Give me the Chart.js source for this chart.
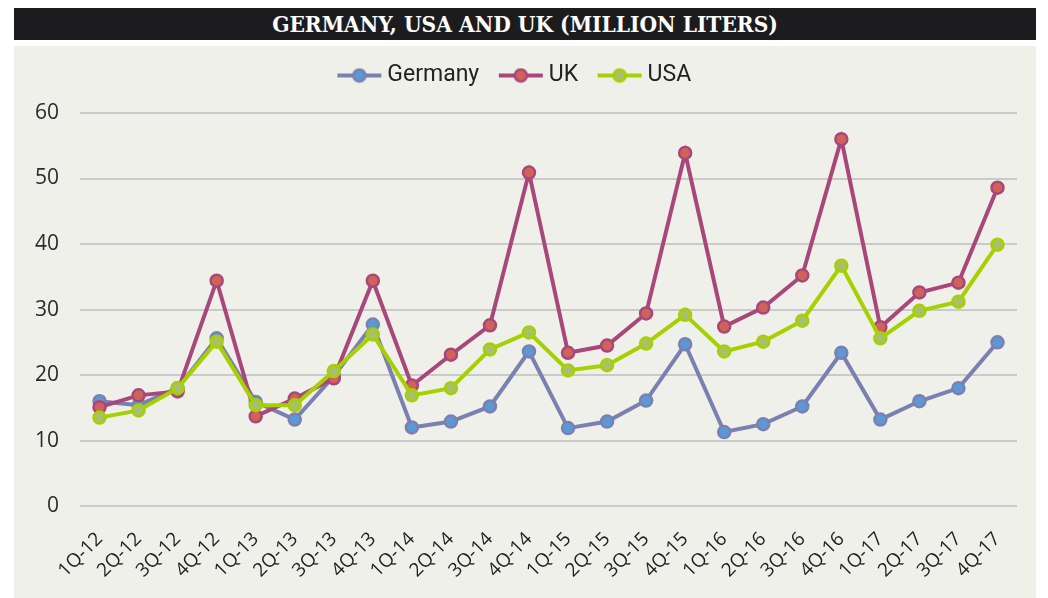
<!DOCTYPE html>
<html>
<head>
<meta charset="utf-8">
<script src="https://cdn.jsdelivr.net/npm/chart.js@4.4.0/dist/chart.umd.min.js"></script>
<style>
	body { margin: 0; background: #fff; width: 1048px; height: 598px; overflow: hidden; }
	#title {
		position: absolute; left: 14px; top: 8px; width: 1022px; height: 32px;
		background: #1c1c1e; color: #fff; text-align: center;
		font: bold 22.5px "DejaVu Serif Condensed", "DejaVu Serif", serif; line-height: 32px;
	}
	#box { position: absolute; left: 14px; top: 46px; width: 1022px; height: 552px; background: #f0f0eb; }
</style>
</head>
<body>
<div id="title">GERMANY, USA AND UK (MILLION LITERS)</div>
<div id="box"><canvas id="chart" width="1022" height="552"></canvas></div>
<script>
const quarters = ['1Q-12', '2Q-12', '3Q-12', '4Q-12', '1Q-13', '2Q-13', '3Q-13', '4Q-13',
	'1Q-14', '2Q-14', '3Q-14', '4Q-14', '1Q-15', '2Q-15', '3Q-15', '4Q-15',
	'1Q-16', '2Q-16', '3Q-16', '4Q-16', '1Q-17', '2Q-17', '3Q-17', '4Q-17'];

const germany = [16.0, 15.4, 18.0, 25.6, 15.9, 13.2, 19.8, 27.7, 12.0, 12.9, 15.2, 23.6,
	11.9, 12.9, 16.1, 24.7, 11.3, 12.5, 15.2, 23.4, 13.2, 16.0, 18.0, 25.0];
const uk = [15.1, 16.9, 17.5, 34.4, 13.7, 16.4, 19.5, 34.4, 18.4, 23.1, 27.6, 50.9,
	23.4, 24.5, 29.4, 53.9, 27.4, 30.3, 35.2, 56.0, 27.3, 32.6, 34.1, 48.6];
const usa = [13.5, 14.6, 18.0, 25.1, 15.4, 15.4, 20.6, 26.2, 16.9, 18.0, 23.9, 26.5,
	20.7, 21.5, 24.8, 29.2, 23.6, 25.1, 28.3, 36.7, 25.6, 29.8, 31.2, 39.9];

const yTicks = [0, 10, 20, 30, 40, 50, 60];

const series = [
	{ name: 'Germany', data: germany, line: '#7a80b0', fill: '#5a98d6', order: 3 },
	{ name: 'UK', data: uk, line: '#a8487a', fill: '#d0625a', order: 2 },
	{ name: 'USA', data: usa, line: '#a6d000', fill: '#a8c068', order: 1 }
];

// legend marker: short line with a dot in the middle, sits at the right of the image
const marker = (line, fill) => {
	const c = document.createElement('canvas');
	c.width = 49; c.height = 16;
	const x = c.getContext('2d');
	x.strokeStyle = line; x.lineWidth = 4;
	x.beginPath(); x.moveTo(4, 8); x.lineTo(48, 8); x.stroke();
	x.beginPath(); x.arc(26, 8, 6, 0, Math.PI * 2);
	x.fillStyle = fill; x.fill(); x.lineWidth = 2.5; x.stroke();
	return c;
};

// push the plot down a bit under the legend
const legendSpace = {
	id: 'legendSpace',
	afterInit(chart) {
		const fit = chart.legend.fit;
		chart.legend.fit = function () {
			fit.call(this);
			this.height += 16;
		};
	}
};

new Chart(document.getElementById('chart').getContext('2d'), {
	type: 'line',
	plugins: [legendSpace],
	data: {
		labels: quarters,
		datasets: series.map(s => ({
			label: s.name,
			data: s.data,
			order: s.order,
			borderColor: s.line,
			backgroundColor: s.fill,
			borderWidth: 4,
			pointRadius: 6,
			pointBorderWidth: 2.5,
			pointBackgroundColor: s.fill,
			pointBorderColor: s.line,
			tension: 0
		}))
	},
	options: {
		responsive: false,
		animation: false,
		layout: { padding: { top: -4, right: 19, bottom: 2, left: 0 } },
		plugins: {
			legend: {
				labels: {
					usePointStyle: true,
					pointStyleWidth: 36,
					padding: 22,
					color: '#222',
					font: { family: '"Liberation Sans Narrow", "Roboto", sans-serif', size: 23 },
					generateLabels: chart => chart.data.datasets.map((ds, i) => ({
						text: ds.label,
						datasetIndex: i,
						pointStyle: marker(series[i].line, series[i].fill),
						fillStyle: series[i].fill,
						strokeStyle: series[i].line,
						fontColor: '#222',
						lineWidth: 0,
						hidden: !chart.isDatasetVisible(i)
					}))
				}
			},
			tooltip: { enabled: false }
		},
		scales: {
			x: {
				offset: true,
				grid: { display: false },
				border: { display: false },
				ticks: {
					minRotation: 45, maxRotation: 45, autoSkip: false, padding: 14,
					color: '#1e1e1e',
					font: { family: '"Open Sans", sans-serif', size: 19 }
				}
			},
			y: {
				min: 0, max: 60,
				afterBuildTicks: axis => { axis.ticks = yTicks.map(v => ({ value: v })); },
				grid: { color: '#cacaca', lineWidth: 2, drawTicks: false },
				border: { display: false },
				ticks: {
					padding: 21,
					color: '#2a2a2a',
					font: { family: '"Open Sans", sans-serif', size: 21 }
				}
			}
		}
	}
});
</script>
</body>
</html>
